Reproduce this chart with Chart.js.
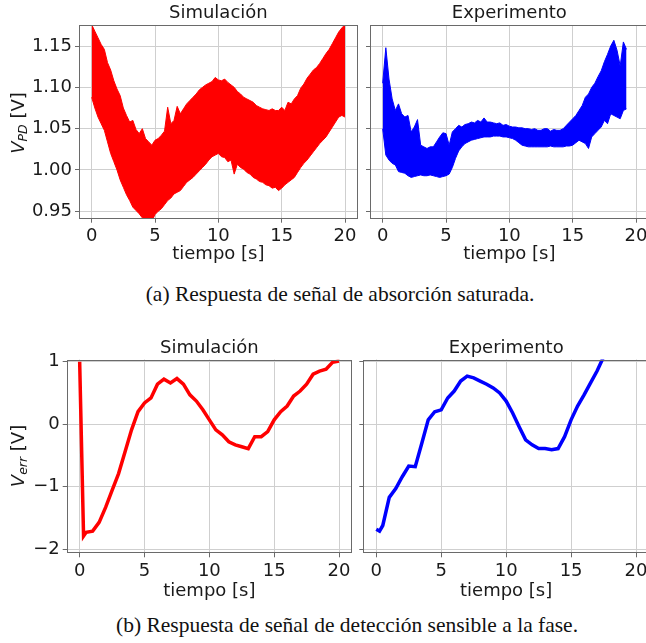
<!DOCTYPE html>
<html>
<head>
<meta charset="utf-8">
<script src="https://cdn.jsdelivr.net/npm/chart.js@4.4.1/dist/chart.umd.min.js"></script>
<style>
  body { margin: 0; background: #fff; width: 646px; height: 643px; overflow: hidden; position: relative; }
  canvas { position: absolute; }
  .ylab { position: absolute; transform: translate(-50%, -50%) rotate(-90deg); font: 18px 'DejaVu Sans'; color: #1a1a1a; white-space: nowrap; }
  .ylab i { font-style: italic; }
  .ylab sub { font-size: 12.5px; font-style: italic; vertical-align: -3px; }
  .caption { position: absolute; transform: translateX(-50%); font: 21.5px 'Liberation Serif'; line-height: 24px; white-space: nowrap; color: #111; }
</style>
</head>
<body>
<canvas id="absSim" width="360" height="272" style="left:0px;top:0px"></canvas>
<canvas id="absExp" width="290" height="272" style="left:362px;top:0px"></canvas>
<canvas id="errSim" width="356" height="273" style="left:0px;top:330px"></canvas>
<canvas id="errExp" width="298" height="273" style="left:355px;top:330px"></canvas>

<div class="ylab" style="left:18px;top:123px"><i>V</i><sub>PD</sub> [V]</div>
<div class="ylab" style="left:18px;top:456px"><i>V</i><sub>err</sub> [V]</div>

<div class="caption" style="left:340px;top:282px">(a) Respuesta de señal de absorción saturada.</div>
<div class="caption" style="left:347px;top:613px">(b) Respuesta de señal de detección sensible a la fase.</div>

<script>
// tick values
const timeTicks = [0, 5, 10, 15, 20];
const pdTicks = [0.95, 1.00, 1.05, 1.10, 1.15];
const errTicks = [-2, -1, 0, 1];

// absorption signal, envelope of the fast oscillation, sampled every 0.25 s
const absStep = 0.25;
const simHi = [1.176,1.168,1.160,1.152,1.146,1.130,1.121,1.108,1.098,1.090,1.075,1.066,1.058,1.060,1.049,1.044,
  1.050,1.038,1.034,1.030,1.036,1.038,1.042,1.047,1.076,1.056,1.060,1.077,1.068,1.074,1.080,1.084,
  1.088,1.092,1.097,1.100,1.103,1.105,1.107,1.112,1.109,1.108,1.110,1.106,1.103,1.100,1.095,1.092,
  1.088,1.086,1.084,1.082,1.078,1.076,1.074,1.073,1.072,1.074,1.072,1.072,1.076,1.072,1.082,1.080,
  1.086,1.090,1.099,1.104,1.111,1.116,1.121,1.124,1.129,1.135,1.141,1.146,1.153,1.160,1.167,1.172,1.176];
const simLo = [1.088,1.075,1.064,1.056,1.048,1.034,1.020,1.010,1.000,0.988,0.979,0.970,0.963,0.955,0.951,0.947,
  0.942,0.938,0.940,0.938,0.946,0.950,0.953,0.958,0.963,0.966,0.971,0.973,0.975,0.980,0.985,0.988,
  0.991,0.995,0.999,1.003,1.007,1.012,1.016,1.018,1.020,1.016,1.015,1.010,1.012,0.995,1.007,1.003,
  1.001,0.997,0.995,0.991,0.989,0.986,0.985,0.982,0.981,0.978,0.979,0.975,0.978,0.982,0.985,0.988,
  0.991,0.997,1.003,1.008,1.012,1.017,1.022,1.027,1.032,1.036,1.040,1.046,1.052,1.058,1.064,1.066,1.064];
const expHi = [1.105,1.148,1.110,1.086,1.072,1.080,1.068,1.064,1.066,1.046,1.052,1.061,1.030,1.028,1.026,1.028,
  1.028,1.034,1.040,1.045,1.044,1.030,1.046,1.050,1.054,1.052,1.055,1.056,1.058,1.057,1.060,1.058,
  1.063,1.058,1.058,1.057,1.056,1.057,1.054,1.055,1.053,1.052,1.052,1.051,1.051,1.050,1.050,1.049,
  1.050,1.048,1.048,1.050,1.050,1.047,1.049,1.048,1.048,1.050,1.054,1.058,1.062,1.066,1.072,1.078,
  1.088,1.092,1.100,1.105,1.113,1.120,1.131,1.140,1.150,1.157,1.145,1.126,1.155,1.146];
const expLo = [1.050,1.018,1.012,1.008,1.006,0.998,0.997,0.996,0.993,0.991,0.992,0.993,0.994,0.993,0.993,0.994,
  0.993,0.992,0.991,0.992,0.993,0.995,1.003,1.014,1.023,1.028,1.032,1.034,1.036,1.037,1.038,1.039,
  1.040,1.040,1.040,1.041,1.041,1.041,1.040,1.040,1.039,1.038,1.036,1.033,1.030,1.029,1.028,1.028,
  1.028,1.028,1.028,1.028,1.028,1.029,1.028,1.028,1.028,1.028,1.029,1.029,1.030,1.033,1.036,1.034,
  1.032,1.026,1.040,1.044,1.048,1.052,1.060,1.056,1.068,1.066,1.064,1.062,1.072,1.074];

// phase sensitive detection error signal
const errSimT = [0,0.3,0.5,1,1.5,2,2.5,3,3.5,4,4.5,5,5.5,6,6.5,7,7.5,8,8.5,9,9.5,10,10.5,11,11.5,12,12.5,13,13.5,14,14.5,15,15.5,16,16.5,17,17.5,18,18.5,19,19.5,20];
const errSimV = [1.0,-1.79,-1.73,-1.71,-1.57,-1.33,-1.06,-0.79,-0.44,-0.09,0.2,0.34,0.42,0.64,0.72,0.66,0.73,0.64,0.47,0.37,0.23,0.07,-0.09,-0.17,-0.28,-0.33,-0.36,-0.39,-0.2,-0.2,-0.12,0.07,0.2,0.29,0.45,0.53,0.64,0.8,0.85,0.88,0.99,1.01];
const errExpT = [0,0.25,0.5,1,1.5,2,2.5,3,3.5,4,4.5,5,5.5,6,6.5,7,7.5,8,8.5,9,9.5,10,10.5,11,11.5,12,12.5,13,13.5,14,14.5,15,15.5,16,16.5,17,17.4,17.6];
const errExpV = [-1.68,-1.71,-1.62,-1.17,-1.03,-0.84,-0.67,-0.68,-0.31,0.07,0.2,0.23,0.42,0.53,0.69,0.77,0.74,0.69,0.64,0.58,0.5,0.37,0.18,-0.04,-0.25,-0.33,-0.39,-0.39,-0.41,-0.39,-0.2,0.07,0.29,0.47,0.66,0.85,1.03,1.12];

const fontFam = "'DejaVu Sans'";
const textColor = '#1a1a1a';
const gridColor = '#cfcfcf';
const frameColor = '#6a6a6a';

function pts(xs, ys) {
  return ys.map((v, i) => ({ x: xs[i], y: v }));
}
function stepTimes(arr, step) {
  return arr.map((_, i) => i * step);
}

// axes box on all four sides (matplotlib spines)
const framePlugin = {
  id: 'frame',
  afterDatasetsDraw(chart) {
    const a = chart.chartArea;
    const ctx = chart.ctx;
    ctx.save();
    ctx.strokeStyle = frameColor;
    ctx.lineWidth = 1;
    const l = Math.round(a.left) + 0.5, t = Math.round(a.top) + 0.5;
    const r = Math.round(a.right) - 0.5, b = Math.round(a.bottom) - 0.5;
    ctx.strokeRect(l, t, r - l, b - t);
    ctx.restore();
  }
};

function makePanel(id, p) {
  const font = { family: fontFam, size: 18 };
  new Chart(document.getElementById(id), {
    type: 'line',
    data: { datasets: p.datasets },
    options: {
      animation: false,
      responsive: false,
      layout: { padding: { left: 0, right: p.padRight, top: 0, bottom: 0 }, autoPadding: false },
      plugins: {
        legend: { display: false },
        tooltip: { enabled: false },
        title: {
          display: true, text: p.title, fullSize: false, color: textColor,
          font: { family: fontFam, size: 18, weight: 'normal' },
          padding: p.titlePad
        }
      },
      scales: {
        x: {
          type: 'linear', min: -1, max: 21,
          afterBuildTicks: s => { s.ticks = timeTicks.map(v => ({ value: v })); },
          afterFit: s => { s.height = p.xHeight; },
          grid: { color: gridColor, tickColor: frameColor, tickLength: 4, lineWidth: 1 },
          border: { display: false },
          ticks: { font, color: textColor, padding: 3, maxRotation: 0, callback: v => String(v) },
          title: { display: true, text: 'tiempo [s]', font, color: textColor, padding: { top: 0, bottom: p.xTitlePad } }
        },
        y: {
          type: 'linear', min: p.yMin, max: p.yMax,
          afterBuildTicks: s => { s.ticks = p.yTicks.map(v => ({ value: v })); },
          afterFit: s => { s.width = p.yWidth; },
          grid: { color: gridColor, tickColor: frameColor, tickLength: 4, lineWidth: 1 },
          border: { display: false },
          ticks: { display: p.showY, font, color: textColor, padding: 3, callback: p.fmt }
        }
      }
    },
    plugins: [framePlugin]
  });
}

const pdFmt = v => v.toFixed(2);
const errFmt = v => (v < 0 ? '\u2212' + Math.abs(v) : String(v));

const simT = stepTimes(simHi, absStep);
const expT = stepTimes(expHi, absStep);

makePanel('absSim', {
  title: 'Simulación', titlePad: { top: 2.9, bottom: 0.5 }, padRight: 2.3,
  xHeight: 53.3, xTitlePad: 7.2, yWidth: 79, showY: true,
  yMin: 0.941, yMax: 1.1755, yTicks: pdTicks, fmt: pdFmt,
  datasets: [
    { data: pts(simT, simHi), borderColor: '#ff0000', backgroundColor: '#ff0000', borderWidth: 1, pointRadius: 0, fill: '+1', clip: 0 },
    { data: pts(simT, simLo), borderColor: '#ff0000', borderWidth: 1, pointRadius: 0, fill: false, clip: 0 }
  ]
});

makePanel('absExp', {
  title: 'Experimento', titlePad: { top: 2.9, bottom: 0.5 }, padRight: 3.3,
  xHeight: 53.3, xTitlePad: 7.2, yWidth: 8, showY: false,
  yMin: 0.941, yMax: 1.1755, yTicks: pdTicks, fmt: pdFmt,
  datasets: [
    { data: pts(expT, expHi), borderColor: '#0000ff', backgroundColor: '#0000ff', borderWidth: 1, pointRadius: 0, fill: '+1', clip: 0 },
    { data: pts(expT, expLo), borderColor: '#0000ff', borderWidth: 1, pointRadius: 0, fill: false, clip: 0 }
  ]
});

makePanel('errSim', {
  title: 'Simulación', titlePad: { top: 7.5, bottom: 0.4 }, padRight: 4,
  xHeight: 49.7, xTitlePad: 1.2, yWidth: 66.7, showY: true,
  yMin: -2.065, yMax: 1.035, yTicks: errTicks, fmt: errFmt,
  datasets: [
    { data: pts(errSimT, errSimV), borderColor: '#ff0000', borderWidth: 3.5, pointRadius: 0, fill: false, clip: 0 }
  ]
});

makePanel('errExp', {
  title: 'Experimento', titlePad: { top: 7.5, bottom: 0.4 }, padRight: 4,
  xHeight: 49.7, xTitlePad: 1.2, yWidth: 8.3, showY: false,
  yMin: -2.065, yMax: 1.035, yTicks: errTicks, fmt: errFmt,
  datasets: [
    { data: pts(errExpT, errExpV), borderColor: '#0000ff', borderWidth: 3.5, pointRadius: 0, fill: false, clip: 0 }
  ]
});
</script>
</body>
</html>
